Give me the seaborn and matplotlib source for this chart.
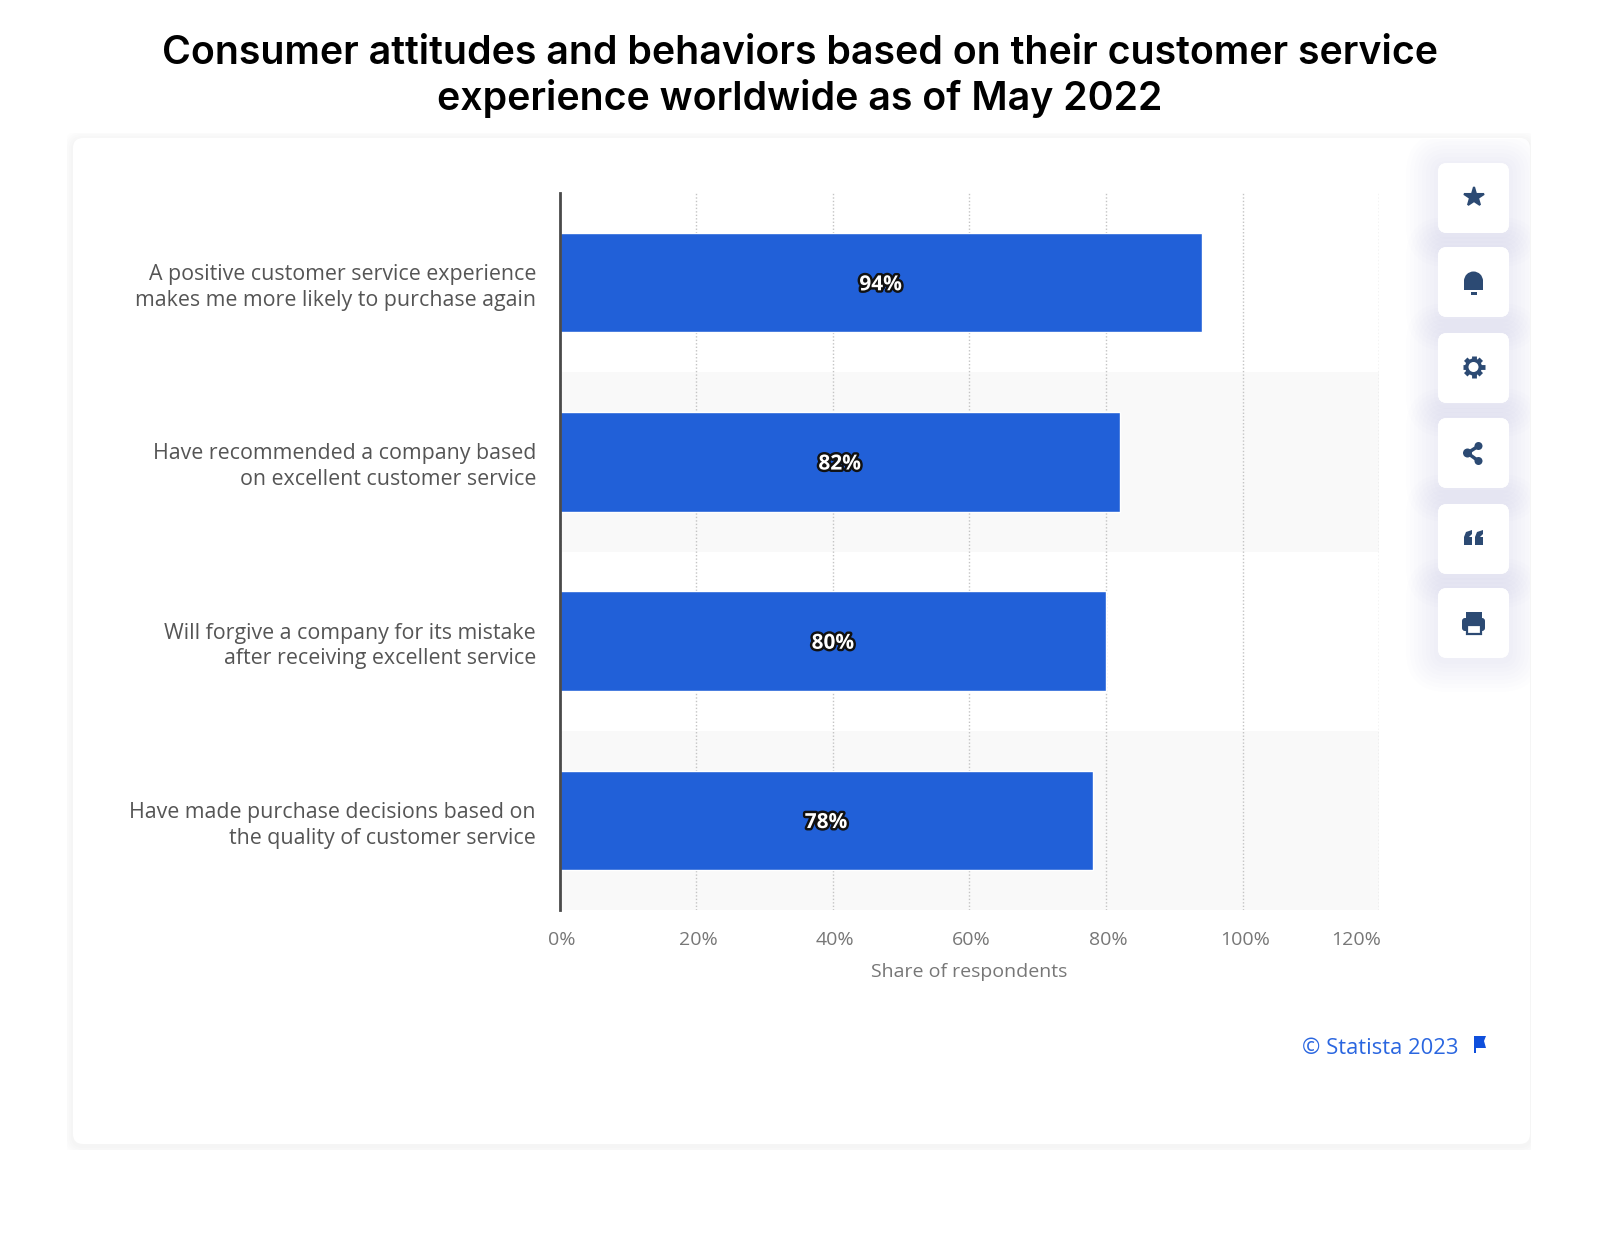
import math
import matplotlib
matplotlib.use("Agg")
import matplotlib.pyplot as plt
import matplotlib.patheffects as pe
from matplotlib.patches import FancyBboxPatch, Rectangle, Circle, Polygon, Wedge
from matplotlib.transforms import ScaledTranslation
import pandas as pd
import seaborn as sns

statements = [
    "A positive customer service experience\nmakes me more likely to purchase again",
    "Have recommended a company based\non excellent customer service",
    "Will forgive a company for its mistake\nafter receiving excellent service",
    "Have made purchase decisions based on\nthe quality of customer service",
]
shares = [94, 82, 80, 78]
x_ticks = [0, 20, 40, 60, 80, 100, 120]
x_tick_labels = ["0%", "20%", "40%", "60%", "80%", "100%", "120%"]

W, H = 1600, 1233
ICON = "#2c4a73"
BLUE = "#2160d8"

sns.set_theme(style="white")
plt.rcParams["font.family"] = ["Open Sans", "DejaVu Sans"]

fig = plt.figure(figsize=(W / 100, H / 100), dpi=100, facecolor="white")

# page layer in pixel coordinates, y going down
bg = fig.add_axes([0, 0, 1, 1], zorder=0)
bg.set_xlim(0, W)
bg.set_ylim(H, 0)
bg.axis("off")


def card(x0, y0, x1, y1, radius, spread, step, alpha, z, clip=None):
    for i in range(spread, 0, -step):
        shadow = FancyBboxPatch((x0 - i, y0 - i + 2), x1 - x0 + 2 * i, y1 - y0 + 2 * i,
                                boxstyle="round,pad=0,rounding_size=%d" % (radius + i),
                                fc="#5a6490", ec="none", alpha=alpha, zorder=z)
        bg.add_patch(shadow)
        if clip is not None:
            shadow.set_clip_path(clip)
    bg.add_patch(FancyBboxPatch((x0, y0), x1 - x0, y1 - y0,
                                boxstyle="round,pad=0,rounding_size=%d" % radius,
                                fc="white", ec="none", zorder=z + 0.5))


clip_box = Rectangle((67, 133), 1464, 1017, transform=bg.transData)
inner_box = Rectangle((74, 139), 1456, 1005, transform=bg.transData)
card(73, 138, 1530, 1144, 10, 10, 2, 0.012, 1, clip_box)

# toolbar buttons
button_tops = [163, 247, 333, 418, 504, 588]
for top in button_tops:
    card(1438, top, 1509, top + 70, 9, 32, 4, 0.007, 2, inner_box)
# solid faces again so a neighbour's shadow does not tint them
for top in button_tops:
    bg.add_patch(FancyBboxPatch((1438, top), 71, 70, boxstyle="round,pad=0,rounding_size=9",
                                fc="white", ec="none", zorder=4))

cx = 1473.5
bg.plot([cx], [197], marker="*", ms=15, mew=1.5, color=ICON, mec=ICON, zorder=5)

# bell
bg.add_patch(Wedge((cx, 281), 9.5, 180, 360, fc=ICON, ec="none", zorder=5))
bg.add_patch(Rectangle((cx - 9.5, 280), 19, 10, fc=ICON, ec="none", zorder=5))
bg.add_patch(Rectangle((cx - 3, 292), 6, 2.5, fc=ICON, ec="none", zorder=5))

# gear
for k in range(8):
    ang = math.radians(45 * k)
    bg.plot([cx, cx + 11 * math.cos(ang)], [367, 367 + 11 * math.sin(ang)],
            color=ICON, lw=3.5, solid_capstyle="butt", zorder=5)
bg.add_patch(Circle((cx, 367), 8.5, fc=ICON, ec="none", zorder=5))
bg.add_patch(Circle((cx, 367), 5, fc="white", ec="none", zorder=6))

# share
bg.plot([cx + 5, cx - 6, cx + 5], [446, 453, 461], color=ICON, lw=2.5, zorder=5)
for sx, sy, sr in [(cx + 5, 446, 4), (cx - 6, 453, 4.5), (cx + 5, 461, 4)]:
    bg.add_patch(Circle((sx, sy), sr, fc=ICON, ec="none", zorder=5))

# quote marks
for qx in [cx - 9.5, cx + 1.5]:
    bg.add_patch(Polygon([(qx, 545), (qx, 537), (qx + 2, 532), (qx + 8, 530), (qx + 8, 534),
                          (qx + 5, 537), (qx + 8, 537), (qx + 8, 545)],
                         fc=ICON, ec="none", zorder=5))

# printer
bg.add_patch(FancyBboxPatch((cx - 11.5, 618), 23, 13, boxstyle="round,pad=0,rounding_size=3",
                            fc=ICON, ec="none", zorder=5))
bg.add_patch(Rectangle((cx - 8, 612), 16, 6, fc=ICON, ec="none", zorder=5))
bg.add_patch(Rectangle((cx - 7, 625), 14, 9, fc="white", ec=ICON, lw=1.6, zorder=6))

# chart
ax = fig.add_axes([559.5 / W, 1 - 910 / H, 820 / W, 717 / H], zorder=1)
ax.patch.set_alpha(0)
df = pd.DataFrame({"statement": statements, "share": shares})

ax.axhspan(0.5, 1.5, color="#f9f9f9", lw=0, zorder=0)
ax.axhspan(2.5, 3.5, color="#f9f9f9", lw=0, zorder=0)
ax.set_axisbelow(True)
ax.xaxis.grid(True, color="#c4c4c4", ls=(0, (1, 1.5)), lw=1)
ax.yaxis.grid(False)

sns.barplot(data=df, x="share", y="statement", color=BLUE, saturation=1, width=0.555,
            zorder=2, ax=ax)

ax.set_xlim(0, 120)
ax.set_ylim(3.5, -0.5)
ax.set_xticks(x_ticks)
ax.set_xticklabels(x_tick_labels, fontsize=14, color="#777777")
ax.set_yticks(range(len(statements)))
ax.set_yticklabels(statements, fontsize=15.4, color="#555555", linespacing=1.3)
ax.tick_params(axis="both", length=0)
ax.tick_params(axis="x", pad=15)
ax.tick_params(axis="y", pad=17)
nudge = ScaledTranslation(2 / 100, 0, fig.dpi_scale_trans)
for lab in ax.get_xticklabels():
    lab.set_transform(lab.get_transform() + nudge)
ax.get_xticklabels()[-1].set_ha("right")
ax.set_ylabel("")
ax.set_xlabel("Share of respondents", fontsize=14, color="#777777", labelpad=10)

for side in ["top", "right", "bottom"]:
    ax.spines[side].set_visible(False)
ax.spines["left"].set_color("#4a4a4a")
ax.spines["left"].set_linewidth(2)
ax.spines["left"].set_zorder(5)

for i, val in enumerate(shares):
    ax.text(val / 2, i + 0.012, "%d%%" % val, ha="center", va="center", fontsize=15, fontweight="bold",
            color="white", zorder=6,
            path_effects=[pe.withStroke(linewidth=3.5, foreground="#111111")])

# title and credit
fig.text(800 / W, 1 - 53 / H, "Consumer attitudes and behaviors based on their customer service",
         family="Inter", fontsize=28.3, fontweight="semibold", color="black", ha="center", va="center")
fig.text(800 / W, 1 - 99 / H, "experience worldwide as of May 2022",
         family="Inter", fontsize=28.3, fontweight="semibold", color="black", ha="center", va="center")

bg.text(1458, 1048, "© Statista 2023", fontsize=15.8, color="#2a66e0", ha="right", va="center", zorder=5)
bg.add_patch(Rectangle((1474, 1036), 2.4, 17, fc="#0f4fdc", ec="none", zorder=5))
bg.add_patch(Polygon([(1476, 1036), (1486, 1036), (1484, 1041), (1486, 1048), (1476, 1048)],
                     fc="#0f4fdc", ec="none", zorder=5))

fig.savefig("out.png", dpi=100, facecolor="white")
